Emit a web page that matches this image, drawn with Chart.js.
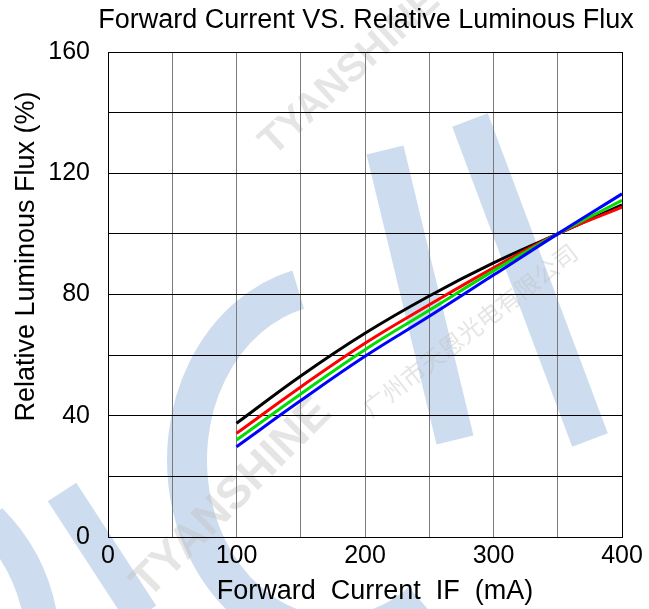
<!DOCTYPE html>
<html>
<head>
<meta charset="utf-8">
<script src="https://cdn.jsdelivr.net/npm/chart.js@4.4.0/dist/chart.umd.min.js"></script>
<style>
    html, body { margin: 0; padding: 0; background: #fff; }
    canvas { display: block; }
</style>
</head>
<body>
<canvas id="chartFlux" width="649" height="609"></canvas>
<script>
const currents = [100, 150, 200, 250, 300, 350, 400];
const fluxBlack = [37.5, 53.1, 67.2, 79.5, 90.4, 100, 109.6];
const fluxRed = [34.2, 49.5, 63.9, 76.6, 88.8, 100, 108.8];
const fluxGreen = [32.0, 47.2, 61.8, 74.8, 87.8, 100, 111.1];
const fluxBlue = [29.8, 45.0, 59.6, 72.8, 86.4, 100, 113.2];
const xTicks = [0, 100, 200, 300, 400];
const yTicks = [0, 40, 80, 120, 160];

const chartTitle = 'Forward Current VS. Relative Luminous Flux';
const xTitle = 'Forward  Current  IF  (mA)';
const yTitle = 'Relative Luminous Flux (%)';
const fontFamily = '"Liberation Sans", Arial, sans-serif';

// faint company watermark behind the grid
const watermark = {
    id: 'watermark',
    beforeDraw(chart) {
        const c = chart.ctx;
        c.save();
        c.fillStyle = '#ffffff';
        c.fillRect(0, 0, chart.width, chart.height);

        c.strokeStyle = 'rgba(172, 198, 228, 0.6)';
        c.lineWidth = 40;
        c.beginPath();
        c.ellipse(335, 460, 148, 176, 0, 1.42 * Math.PI, 0.3 * Math.PI, true);
        c.stroke();

        c.lineWidth = 34;
        c.beginPath();
        c.moveTo(62, 492);
        c.lineTo(142, 615);
        c.stroke();
        c.beginPath();
        c.moveTo(-10, 520);
        c.quadraticCurveTo(30, 560, 40, 615);
        c.stroke();

        c.lineWidth = 38;
        c.beginPath();
        c.moveTo(385, 150);
        c.lineTo(455, 440);
        c.stroke();
        c.beginPath();
        c.moveTo(470, 120);
        c.lineTo(590, 440);
        c.stroke();

        c.fillStyle = 'rgba(190, 190, 190, 0.4)';
        c.textAlign = 'center';
        c.textBaseline = 'middle';
        c.font = 'bold 46px ' + fontFamily;
        c.save();
        c.translate(232, 498);
        c.rotate(-Math.PI / 4);
        c.fillText('TYANSHINE', 0, 0);
        c.restore();
        c.save();
        c.font = 'bold 40px ' + fontFamily;
        c.translate(350, 72);
        c.rotate(-0.74);
        c.fillText('TYANSHINE', 0, 0);
        c.restore();
        c.save();
        c.font = '24px "Noto Sans CJK SC", sans-serif';
        c.translate(470, 330);
        c.rotate(-0.66);
        c.fillText('广州市天恩光电有限公司', 0, 0);
        c.restore();
        c.restore();
    }
};

// titles drawn at the positions used in the source figure
const titles = {
    id: 'titles',
    afterDraw(chart) {
        const c = chart.ctx;
        const area = chart.chartArea;
        c.save();
        c.fillStyle = '#000';
        c.font = '27px ' + fontFamily;
        c.textAlign = 'center';
        c.textBaseline = 'alphabetic';
        c.fillText(chartTitle, (area.left + area.right) / 2 + 1, 28);
        c.fillText(xTitle, (area.left + area.right) / 2 + 10, area.bottom + 62);
        c.translate(34, (area.top + area.bottom) / 2 - 38);
        c.rotate(-Math.PI / 2);
        c.fillText(yTitle, 0, 0);
        c.restore();
    }
};

const lineSet = (data, color) => ({
    data: currents.map((x, i) => ({ x: x, y: data[i] })),
    borderColor: color,
    borderWidth: 3,
    pointRadius: 0,
    fill: false,
    tension: 0.4
});

new Chart(document.getElementById('chartFlux'), {
    type: 'line',
    data: {
        datasets: [
            lineSet(fluxBlue, '#0000ff'),
            lineSet(fluxGreen, '#00dd00'),
            lineSet(fluxRed, '#ff0000'),
            lineSet(fluxBlack, '#000000')
        ]
    },
    plugins: [watermark, titles],
    options: {
        responsive: false,
        animation: false,
        layout: {
            padding: { top: 52, right: 27, left: 0, bottom: 0 }
        },
        plugins: {
            legend: { display: false },
            tooltip: { enabled: false }
        },
        scales: {
            x: {
                type: 'linear',
                min: 0,
                max: 400,
                afterFit: scale => { scale.height = 72; },
                afterBuildTicks: scale => {
                    scale.ticks = [];
                    for (let v = 0; v <= 400; v += 50) scale.ticks.push({ value: v });
                },
                ticks: {
                    autoSkip: false,
                    maxRotation: 0,
                    padding: 4,
                    color: '#000',
                    font: { size: 25, family: fontFamily },
                    callback: v => xTicks.includes(v) ? String(v) : ''
                },
                grid: {
                    drawTicks: false,
                    color: ctx => (ctx.tick && (ctx.tick.value === 0 || ctx.tick.value === 400)) ? '#000' : '#7a7a7a',
                    lineWidth: 1
                },
                border: { color: '#000', width: 1 }
            },
            y: {
                min: 0,
                max: 160,
                afterFit: scale => { scale.width = 108; },
                afterBuildTicks: scale => {
                    scale.ticks = [];
                    for (let v = 0; v <= 160; v += 20) scale.ticks.push({ value: v });
                },
                ticks: {
                    autoSkip: false,
                    padding: 18,
                    color: '#000',
                    font: { size: 25, family: fontFamily },
                    callback: v => yTicks.includes(v) ? String(v) : ''
                },
                grid: {
                    drawTicks: false,
                    color: '#000',
                    lineWidth: 1
                },
                border: { color: '#000', width: 1 }
            }
        }
    }
});
</script>
</body>
</html>
